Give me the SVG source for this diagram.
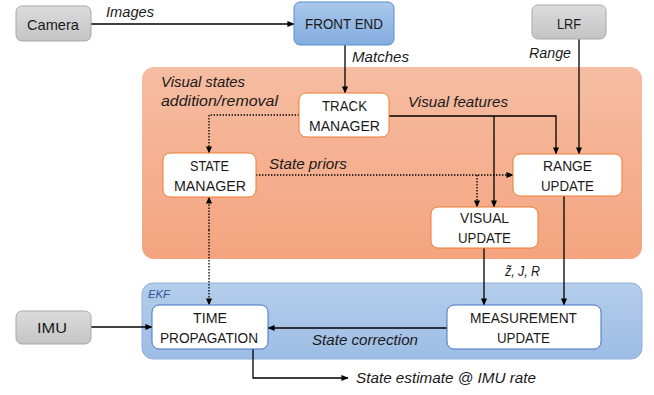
<svg xmlns="http://www.w3.org/2000/svg" width="654" height="395" viewBox="0 0 654 395">
<defs>
<linearGradient id="gGray" x1="0" y1="0" x2="0" y2="1"><stop offset="0" stop-color="#dcdcdc"/><stop offset="1" stop-color="#c4c4c4"/></linearGradient>
<linearGradient id="gBlueNode" x1="0" y1="0" x2="0" y2="1"><stop offset="0" stop-color="#a9c8ea"/><stop offset="1" stop-color="#82acdf"/></linearGradient>
<linearGradient id="gOrange" x1="0" y1="0" x2="0" y2="1"><stop offset="0" stop-color="#f6bda2"/><stop offset="1" stop-color="#f4a47f"/></linearGradient>
<linearGradient id="gBlue" x1="0" y1="0" x2="0" y2="1"><stop offset="0" stop-color="#b4cdea"/><stop offset="1" stop-color="#9dbde5"/></linearGradient>
<marker id="ah" viewBox="0 0 8 8" refX="7.5" refY="4" markerWidth="7" markerHeight="7" markerUnits="userSpaceOnUse" orient="auto"><path d="M0,0.5 L8,4 L0,7.5 Z" fill="#000"/></marker>
</defs>
<style>
.gray{fill:url(#gGray);stroke:#a8a8a8;stroke-width:1}
.onode{fill:#fff;stroke:#ed7d31;stroke-width:1}
.bnode{fill:#fff;stroke:#4472c4;stroke-width:1}
.t{font-family:"Liberation Sans",Arial,sans-serif;font-size:15px;fill:#1a1a1a}
.it{font-family:"Liberation Sans",Arial,sans-serif;font-size:15px;font-style:italic;fill:#1a1a1a}
.ekf{font-family:"Liberation Sans",Arial,sans-serif;font-size:11.5px;font-style:italic;fill:#2f5597}
.ln{fill:none;stroke:#000;stroke-width:1.3}
.dt{fill:none;stroke:#000;stroke-width:1.3;stroke-dasharray:1.4 1.6}
</style>
<rect x="142" y="67" width="500" height="192" rx="12" fill="url(#gOrange)"/>
<rect x="142" y="283" width="500" height="76" rx="11" fill="url(#gBlue)" stroke="#8fb0dc" stroke-width="1"/>
<text class="ekf" x="148" y="298" textLength="22" lengthAdjust="spacingAndGlyphs">EKF</text>

<g id="connectors">
<path class="ln" d="M91,24 H294" marker-end="url(#ah)"/>
<path class="ln" d="M345,45 V93" marker-end="url(#ah)"/>
<path class="ln" d="M579,39 V154" marker-end="url(#ah)"/>
<path class="ln" d="M389,116 H556 V154" marker-end="url(#ah)"/>
<path class="ln" d="M494,116 V207" marker-end="url(#ah)"/>
<path class="dt" d="M299,115 H209 V153" marker-end="url(#ah)"/>
<path class="dt" d="M256,175 H513" marker-end="url(#ah)"/>
<path class="dt" d="M477,175 V207" marker-end="url(#ah)"/>
<path class="dt" d="M209,230 V197" marker-end="url(#ah)"/>
<path class="dt" d="M209,230 V305" marker-end="url(#ah)"/>
<path class="ln" d="M484,248 V305" marker-end="url(#ah)"/>
<path class="ln" d="M564,196 V305" marker-end="url(#ah)"/>
<path class="ln" d="M447,328 H268" marker-end="url(#ah)"/>
<path class="ln" d="M91,327 H152" marker-end="url(#ah)"/>
<path class="ln" d="M253,349 V378 H348" marker-end="url(#ah)"/>
<text class="it" x="106" y="17" textLength="48" lengthAdjust="spacingAndGlyphs">Images</text>
<text class="it" x="352" y="62" textLength="57" lengthAdjust="spacingAndGlyphs">Matches</text>
<text class="it" x="529" y="58" textLength="42" lengthAdjust="spacingAndGlyphs">Range</text>
<text class="it" x="161" y="87" textLength="84" lengthAdjust="spacingAndGlyphs">Visual states</text>
<text class="it" x="161" y="106" textLength="117" lengthAdjust="spacingAndGlyphs">addition/removal</text>
<text class="it" x="408" y="107" textLength="100" lengthAdjust="spacingAndGlyphs">Visual features</text>
<text class="it" x="269" y="169" textLength="78" lengthAdjust="spacingAndGlyphs">State priors</text>
<text class="it" x="505" y="276" textLength="35" lengthAdjust="spacingAndGlyphs">z̃, J, R</text>
<text class="it" x="312" y="345" textLength="106" lengthAdjust="spacingAndGlyphs">State correction</text>
<text class="it" x="356" y="383" textLength="180" lengthAdjust="spacingAndGlyphs">State estimate @ IMU rate</text>
</g>

<g id="camera"><rect class="gray" x="16" y="6" width="75" height="35" rx="6"/><text class="t" x="27" y="29.5" textLength="52" lengthAdjust="spacingAndGlyphs">Camera</text></g>
<g id="front-end"><rect x="294" y="2" width="100" height="43" rx="6" fill="url(#gBlueNode)" stroke="#5b8fd0" stroke-width="1"/><text class="t" x="305" y="29" textLength="78" lengthAdjust="spacingAndGlyphs">FRONT END</text></g>
<g id="lrf"><rect class="gray" x="532" y="5" width="74" height="34" rx="6"/><text class="t" x="557" y="29" textLength="24" lengthAdjust="spacingAndGlyphs">LRF</text></g>
<g id="track-manager"><rect class="onode" x="299" y="93" width="90" height="44" rx="7"/><text class="t" x="322" y="111" textLength="45" lengthAdjust="spacingAndGlyphs">TRACK</text><text class="t" x="309" y="131" textLength="71" lengthAdjust="spacingAndGlyphs">MANAGER</text></g>
<g id="state-manager"><rect class="onode" x="163" y="153" width="93" height="44" rx="7"/><text class="t" x="190" y="171" textLength="39" lengthAdjust="spacingAndGlyphs">STATE</text><text class="t" x="174" y="191" textLength="72" lengthAdjust="spacingAndGlyphs">MANAGER</text></g>
<g id="range-update"><rect class="onode" x="513" y="154" width="109" height="42" rx="7"/><text class="t" x="543" y="171" textLength="49" lengthAdjust="spacingAndGlyphs">RANGE</text><text class="t" x="541" y="191" textLength="53" lengthAdjust="spacingAndGlyphs">UPDATE</text></g>
<g id="visual-update"><rect class="onode" x="431" y="207" width="107" height="41" rx="7"/><text class="t" x="460" y="223" textLength="49" lengthAdjust="spacingAndGlyphs">VISUAL</text><text class="t" x="458" y="243" textLength="53" lengthAdjust="spacingAndGlyphs">UPDATE</text></g>
<g id="imu"><rect class="gray" x="16" y="311" width="75" height="33" rx="6"/><text class="t" x="37" y="333" textLength="30" lengthAdjust="spacingAndGlyphs">IMU</text></g>
<g id="time-propagation"><rect class="bnode" x="152" y="305" width="116" height="44" rx="7"/><text class="t" x="193" y="323" textLength="34" lengthAdjust="spacingAndGlyphs">TIME</text><text class="t" x="160" y="343" textLength="98" lengthAdjust="spacingAndGlyphs">PROPAGATION</text></g>
<g id="measurement-update"><rect class="bnode" x="447" y="305" width="154" height="44" rx="7"/><text class="t" x="470" y="323" textLength="107" lengthAdjust="spacingAndGlyphs">MEASUREMENT</text><text class="t" x="497" y="343" textLength="53" lengthAdjust="spacingAndGlyphs">UPDATE</text></g>
</svg>
